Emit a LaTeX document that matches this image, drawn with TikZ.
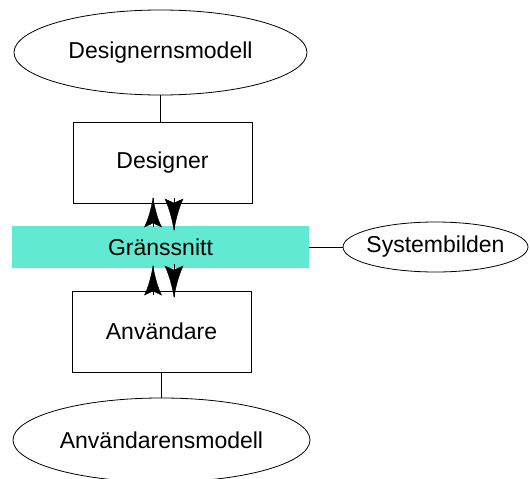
\documentclass[tikz,border=0pt]{standalone}
\usepackage{fontspec}
\setmainfont{Liberation Sans}
\usetikzlibrary{shapes.geometric}
\definecolor{band}{RGB}{98,233,209}
\tikzset{
  model/.style={ellipse,draw,line width=0.8pt,inner sep=-8pt,font=\fontsize{23}{27}\selectfont},
  box/.style={rectangle,draw,line width=0.8pt,inner sep=0pt,font=\fontsize{23}{27}\selectfont},
  link/.style={draw,line width=0.8pt},
  headfill/.style={fill=black,draw=black,line width=0.4pt,line join=miter},
  pics/headup/.style={code={\path[headfill] (0,0) .. controls (2,12) and (5,22) .. (8.5,29) -- (0,25) -- (-8.5,29) .. controls (-5,22) and (-2,12) .. (0,0) -- cycle;}},
  pics/headdown/.style={code={\path[headfill] (0,0) .. controls (2,-12) and (5,-22) .. (9,-31) -- (0,-27) -- (-9,-31) .. controls (-5,-22) and (-2,-12) .. (0,0) -- cycle;}},
}
\begin{document}
\begin{tikzpicture}[x=1pt,y=-1pt]
\useasboundingbox (0,0) rectangle (530,479);
\node[model,minimum width=293pt,minimum height=85pt] (dm) at (160.5,52.5) {Designernsmodell};
\node[box,minimum width=179pt,minimum height=81pt] (des) at (162.5,162.5) {Designer};
\node[rectangle,fill=band,inner sep=0pt,minimum width=297pt,minimum height=42pt,font=\fontsize{23}{27}\selectfont] (gr) at (160.5,247) {Gränssnitt};
\node[model,minimum width=185pt,minimum height=50pt] (sb) at (435.5,247) {Systembilden};
\node[box,minimum width=179pt,minimum height=81pt] (anv) at (161.5,331.5) {Användare};
\node[model,minimum width=297pt,minimum height=84pt] (am) at (161.5,440) {Användarensmodell};
\draw[link] (dm.south) -- (dm.south |- des.north);
\draw[link] (anv.south -| am.north) -- (am.north);
\draw[link] (gr.east) -- (sb.west);
\coordinate (u1) at (153,227);
\coordinate (u1t) at (153,198);
\coordinate (d1s) at (174,198);
\coordinate (d1) at (174,230);
\coordinate (u2) at (153,295);
\coordinate (u2t) at (153,266);
\coordinate (d2s) at (174,264);
\coordinate (d2) at (174,297);
\draw[link] (u1) -- (u1t);
\draw[link] (d1s) -- (d1);
\draw[link] (u2) -- (u2t);
\draw[link] (d2s) -- (d2);
\pic at (u1t) {headup};
\pic at (d1) {headdown};
\pic at (u2t) {headup};
\pic at (d2) {headdown};
\end{tikzpicture}
\end{document}
